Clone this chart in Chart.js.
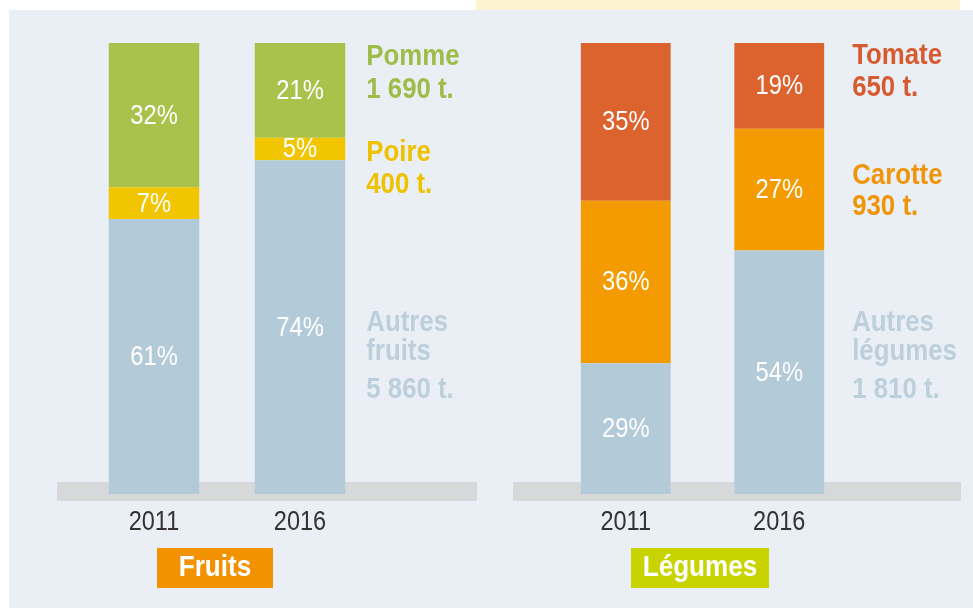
<!DOCTYPE html>
<html><head><meta charset="utf-8">
<script src="https://cdn.jsdelivr.net/npm/chart.js@4.4.1/dist/chart.umd.min.js"></script>
<style>
html,body{margin:0;padding:0;background:#fff;}
#wrap{position:relative;width:973px;height:608px;overflow:hidden;background:#fff;}
#panel{position:absolute;left:9px;top:10px;right:0;bottom:0;background:#e9eff5;}
#strip{position:absolute;left:476px;top:0;width:484px;height:10px;background:#fdf3cf;}
canvas{position:absolute;left:0;top:0;}
</style></head>
<body><div id="wrap"><div id="panel"></div><div id="strip"></div>
<canvas id="c1" width="973" height="608"></canvas>
<canvas id="c2" width="973" height="608"></canvas></div>
<script>
// ---- data ----
const years = ['2011', '2016'];
const fruitSeries = ['Autres fruits', 'Poire', 'Pomme'];
const fruitAutres = [61, 74];
const fruitPoire = [7, 5];
const fruitPomme = [32, 21];
const fruitTonnes = [5860, 400, 1690];
const vegSeries = ['Autres légumes', 'Carotte', 'Tomate'];
const vegAutres = [29, 54];
const vegCarotte = [36, 27];
const vegTomate = [35, 19];
const vegTonnes = [1810, 930, 650];
const groupNames = ['Fruits', 'Légumes'];

const FONT = "'Liberation Sans',Arial,sans-serif";
const BLUE = '#b3cad8';

function fmtT(n){ return String(n).replace(/\B(?=(\d{3})+(?!\d))/g, ' ') + ' t.'; }

// condensed text: draw with a horizontal squeeze
function txt(ctx, s, x, y, align, sx){
  ctx.save();
  ctx.translate(x, y);
  ctx.scale(sx, 1);
  ctx.textAlign = align;
  ctx.fillText(s, 0, 0);
  ctx.restore();
}

function makePlugin(cfg){
  return {
    id: 'deco' + cfg.id,
    beforeDatasetsDraw(chart){
      const ctx = chart.ctx;
      ctx.save();
      ctx.fillStyle = '#d6d8d9';
      ctx.fillRect(cfg.band[0], cfg.band[1], cfg.band[2] - cfg.band[0], cfg.band[3] - cfg.band[1]);
      ctx.restore();
    },
    afterDatasetsDraw(chart){
      const ctx = chart.ctx;
      ctx.save();
      ctx.textBaseline = 'middle';
      // percentages
      ctx.font = '27px ' + FONT;
      ctx.fillStyle = '#ffffff';
      chart.data.datasets.forEach((ds, di) => {
        const meta = chart.getDatasetMeta(di);
        meta.data.forEach((bar, i) => {
          const y = (bar.y + bar.base) / 2;
          txt(ctx, ds.data[i] + '%', bar.x, y + 1, 'center', 0.88);
        });
      });
      // years
      const xs = chart.scales.x;
      ctx.fillStyle = '#333333';
      ctx.font = '27px ' + FONT;
      years.forEach((y, i) => txt(ctx, y, xs.getPixelForValue(i), 523, 'center', 0.87));
      // group box
      ctx.fillStyle = cfg.boxColor;
      ctx.fillRect(cfg.box[0], 548, cfg.box[1] - cfg.box[0], 40);
      ctx.fillStyle = '#ffffff';
      ctx.font = 'bold 29px ' + FONT;
      txt(ctx, cfg.group, (cfg.box[0] + cfg.box[1]) / 2, 568, 'center', 0.9);
      // series labels to the right of the last bar
      const lastMeta = chart.getDatasetMeta(0);
      const lastBar = lastMeta.data[lastMeta.data.length - 1];
      const lx = lastBar.x + lastBar.width / 2 + cfg.labelGap;
      ctx.font = 'bold 29px ' + FONT;
      cfg.series.forEach((name, si) => {
        const lay = cfg.labelLayout[si];
        ctx.fillStyle = cfg.textColors[si];
        let lines;
        if (si === 0) { const p = name.split(' '); lines = [p[0], p.slice(1).join(' ')]; }
        else lines = [name];
        lines.forEach((ln, k) => txt(ctx, ln, lx, lay[0] + k * lay[1], 'left', 0.89));
        txt(ctx, fmtT(cfg.tonnes[si]), lx, lay[2], 'left', 0.89);
      });
      ctx.restore();
    }
  };
}

function build(id, datasets, cfg, pad){
  return new Chart(document.getElementById(id), {
    type: 'bar',
    data: { labels: years, datasets: datasets },
    options: {
      responsive: false, animation: false,
      layout: { padding: pad },
      plugins: { legend: { display: false }, tooltip: { enabled: false } },
      scales: {
        x: { display: false, stacked: true },
        y: { display: false, stacked: true, min: 0, max: 100 }
      }
    },
    plugins: [makePlugin(cfg)]
  });
}

build('c1', [
  { label: fruitSeries[0], data: fruitAutres, backgroundColor: BLUE, categoryPercentage: 1, barPercentage: 0.62 },
  { label: fruitSeries[1], data: fruitPoire, backgroundColor: '#f1c500', categoryPercentage: 1, barPercentage: 0.62 },
  { label: fruitSeries[2], data: fruitPomme, backgroundColor: '#a9c24b', categoryPercentage: 1, barPercentage: 0.62 }
], {
  id: 1, band: [57, 482, 477, 501], box: [157, 273], boxColor: '#f39200', group: groupNames[0],
  series: fruitSeries, tonnes: fruitTonnes, labelGap: 21,
  textColors: ['#bccfdb', '#efc200', '#9dbd48'],
  labelLayout: [[323, 29, 390], [153, 0, 185], [57, 0, 90]]
}, { left: 81, right: 600, top: 43, bottom: 114 });

build('c2', [
  { label: vegSeries[0], data: vegAutres, backgroundColor: BLUE, categoryPercentage: 1, barPercentage: 0.585 },
  { label: vegSeries[1], data: vegCarotte, backgroundColor: '#f39b00', categoryPercentage: 1, barPercentage: 0.585 },
  { label: vegSeries[2], data: vegTomate, backgroundColor: '#dc622e', categoryPercentage: 1, barPercentage: 0.585 }
], {
  id: 2, band: [513, 482, 961, 501], box: [631, 769], boxColor: '#c9d300', group: groupNames[1],
  series: vegSeries, tonnes: vegTonnes, labelGap: 28,
  textColors: ['#bccfdb', '#f0950a', '#d75b2e'],
  labelLayout: [[323, 29, 390], [176, 0, 207], [56, 0, 88]]
}, { left: 549, right: 117, top: 43, bottom: 114 });
</script></body></html>
